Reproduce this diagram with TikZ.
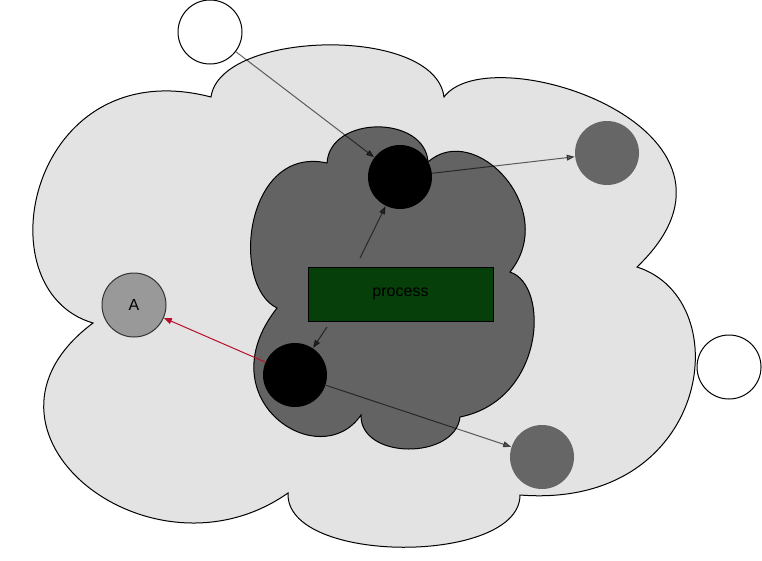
\documentclass[tikz,border=0pt]{standalone}
\usepackage{fontspec}
\setmainfont{Liberation Sans}
\usetikzlibrary{arrows.meta}
\definecolor{cloudlight}{HTML}{E3E3E3}
\definecolor{clouddark}{HTML}{636363}
\definecolor{ballgray}{HTML}{666666}
\definecolor{agray}{HTML}{999999}
\definecolor{procgreen}{HTML}{063F0A}
\definecolor{linkred}{HTML}{B80F2A}
\begin{document}
\begin{tikzpicture}[x=0.75pt,y=-0.75pt,
  ball/.style={shape=circle,inner sep=0pt,minimum size=48pt,line width=0.75pt},
  link/.style={draw=black,opacity=0.6,line width=0.75pt,-{Triangle[length=6pt,width=4.5pt]}},
  redlink/.style={draw=linkred,line width=0.75pt,-{Triangle[length=6pt,width=4.5pt]}},
  every node/.style={font=\fontsize{12}{14}\selectfont}]
\useasboundingbox (0,0) rectangle (762,560);
\draw[fill=cloudlight,line width=0.75pt] (211,97) .. controls (220,30) and (435,25) .. (444,97)
  .. controls (490,35) and (780,130) .. (637,267)
  .. controls (740,300) and (710,510) .. (520,495)
  .. controls (520,565) and (285,565) .. (288,493)
  .. controls (150,590) and (-50,430) .. (93,323)
  .. controls (-20,290) and (30,50) .. (211,97) -- cycle;
\draw[fill=clouddark,line width=0.75pt] (327,163) .. controls (330,115) and (425,115) .. (428,162)
  .. controls (475,120) and (560,210) .. (510,272)
  .. controls (550,285) and (545,400) .. (460,417)
  .. controls (455,460) and (360,460) .. (361,415)
  .. controls (320,475) and (205,400) .. (277,308)
  .. controls (230,285) and (245,145) .. (327,163) -- cycle;
\node[ball,draw=black,fill=white] (W1) at (210,32) {};
\node[ball,draw=black,fill=white] (W2) at (729,367) {};
\node[ball,fill=ballgray] (G1) at (607,153) {};
\node[ball,fill=ballgray] (G2) at (542,457) {};
\node[ball,draw=black!80,fill=agray] (A) at (134,305) {A};
\node[ball,fill=black] (B1) at (400,177) {};
\node[ball,fill=black] (B2) at (295,375) {};
\node[shape=rectangle,draw=black,fill=procgreen,line width=0.75pt,minimum width=138.75pt,minimum height=40.5pt] (P) at (400.5,294) {process};
\coordinate (P1) at (360,258);
\coordinate (P2) at (327,327);
\path [] (W1) edge[link] (B1);
\path [] (B1) edge[link] (G1);
\path [] (P1) edge[link] (B1);
\path [] (P2) edge[link] (B2);
\path [] (B2) edge[redlink] (A);
\path [] (B2) edge[link] (G2);
\end{tikzpicture}
\end{document}
